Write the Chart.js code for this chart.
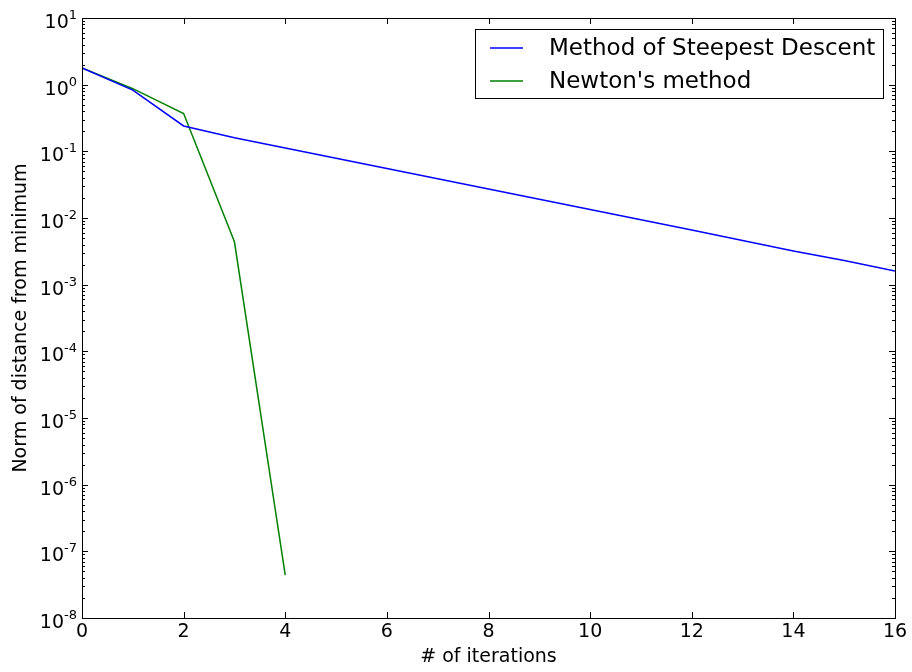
<!DOCTYPE html>
<html>
<head>
<meta charset="utf-8">
<script src="https://cdn.jsdelivr.net/npm/chart.js@4.4.1/dist/chart.umd.min.js"></script>
<style>
  html, body { margin: 0; padding: 0; background: #fff; }
  #wrap { width: 912px; height: 672px; }
</style>
</head>
<body>
<div id="wrap"><canvas id="chart" width="912" height="672"></canvas></div>
<script>
// values
const iterations = [0, 1, 2, 3, 4, 5, 6, 7, 8, 9, 10, 11, 12, 13, 14, 15, 16];
const steepest = [1.78, 0.83, 0.24, 0.160, 0.112, 0.0789, 0.0553, 0.0388, 0.0272,
                  0.0191, 0.0134, 0.0094, 0.0066, 0.0046, 0.0032, 0.0023, 0.0016];
const newtonIter = [0, 1, 2, 3, 4];
const newton = [1.78, 0.87, 0.37, 0.0044, 4.4e-8];
const xTicks = [0, 2, 4, 6, 8, 10, 12, 14, 16];
const yExponents = [-8, -7, -6, -5, -4, -3, -2, -1, 0, 1];

const FONT = 'DejaVu Sans';

function toPoints(xs, ys) {
  return xs.map((x, i) => ({ x: x, y: ys[i] }));
}

// frame, inward ticks, 10^n labels and legend (matplotlib look)
const mplAxes = {
  id: 'mplAxes',
  afterDatasetsDraw(chart) {
    const ctx = chart.ctx;
    const a = chart.chartArea;
    const xs = chart.scales.x;
    const ys = chart.scales.y;
    ctx.save();
    ctx.strokeStyle = '#000';
    ctx.lineWidth = 1;

    // ticks
    ctx.beginPath();
    xTicks.forEach(t => {
      const px = Math.round(xs.getPixelForValue(t)) + 0.5;
      ctx.moveTo(px, a.bottom); ctx.lineTo(px, a.bottom - 6);
      ctx.moveTo(px, a.top); ctx.lineTo(px, a.top + 6);
    });
    yExponents.forEach(e => {
      const py = Math.round(ys.getPixelForValue(Math.pow(10, e))) + 0.5;
      ctx.moveTo(a.left, py); ctx.lineTo(a.left + 6, py);
      ctx.moveTo(a.right, py); ctx.lineTo(a.right - 6, py);
      if (e < 1) {
        for (let m = 2; m <= 9; m++) {
          const pm = Math.round(ys.getPixelForValue(m * Math.pow(10, e))) + 0.5;
          ctx.moveTo(a.left, pm); ctx.lineTo(a.left + 3, pm);
          ctx.moveTo(a.right, pm); ctx.lineTo(a.right - 3, pm);
        }
      }
    });
    ctx.stroke();

    // frame
    ctx.strokeRect(Math.round(a.left) + 0.5, Math.round(a.top) + 0.5,
                   Math.round(a.right - a.left), Math.round(a.bottom - a.top));

    // y tick labels 10^n
    ctx.fillStyle = '#000';
    ctx.textBaseline = 'alphabetic';
    yExponents.forEach(e => {
      const py = ys.getPixelForValue(Math.pow(10, e));
      const exp = String(e);
      ctx.font = '13px "' + FONT + '"';
      const ew = ctx.measureText(exp).width;
      const right = a.left - 5;
      ctx.textAlign = 'left';
      ctx.fillText(exp, right - ew, py + 1);
      ctx.font = '19px "' + FONT + '"';
      ctx.textAlign = 'right';
      ctx.fillText('10', right - ew, py + 10);
    });

    // legend
    const bx = 475.5, by = 29.5, bw = 408, bh = 69;
    ctx.fillStyle = '#fff';
    ctx.fillRect(bx, by, bw, bh);
    ctx.strokeRect(bx, by, bw, bh);
    ctx.font = '23px "' + FONT + '"';
    ctx.textAlign = 'left';
    ctx.textBaseline = 'middle';
    chart.data.datasets.forEach((ds, i) => {
      const ly = 48 + i * 33;
      ctx.strokeStyle = ds.borderColor;
      ctx.lineWidth = 1.5;
      ctx.beginPath();
      ctx.moveTo(490, ly); ctx.lineTo(523, ly);
      ctx.stroke();
      ctx.fillStyle = '#000';
      ctx.fillText(ds.label, 549, ly + 1);
    });
    ctx.restore();
  }
};

new Chart(document.getElementById('chart'), {
  type: 'line',
  data: {
    datasets: [
      {
        label: 'Method of Steepest Descent',
        data: toPoints(iterations, steepest),
        borderColor: '#0000ff',
        borderWidth: 1.5,
        pointRadius: 0,
        tension: 0,
        fill: false
      },
      {
        label: "Newton's method",
        data: toPoints(newtonIter, newton),
        borderColor: '#008000',
        borderWidth: 1.5,
        pointRadius: 0,
        tension: 0,
        fill: false
      }
    ]
  },
  options: {
    responsive: false,
    animation: false,
    devicePixelRatio: 1,
    layout: { padding: { left: 0, right: 17, top: 18, bottom: 0 } },
    plugins: {
      legend: { display: false },
      tooltip: { enabled: false }
    },
    scales: {
      x: {
        type: 'linear',
        min: 0,
        max: 16,
        grid: { display: false, drawTicks: false },
        border: { display: false },
        afterBuildTicks: s => { s.ticks = xTicks.map(v => ({ value: v })); },
        afterFit: s => { s.height = 54; },
        ticks: {
          color: '#000',
          padding: 3,
          maxRotation: 0,
          font: { family: FONT, size: 19 }
        },
        title: {
          display: true,
          text: '# of iterations',
          color: '#000',
          padding: { top: 0, bottom: 4 },
          font: { family: FONT, size: 19 }
        }
      },
      y: {
        type: 'logarithmic',
        min: 1e-8,
        max: 10,
        grid: { display: false, drawTicks: false },
        border: { display: false },
        afterBuildTicks: s => { s.ticks = yExponents.map(e => ({ value: Math.pow(10, e) })); },
        afterFit: s => { s.width = 82; },
        ticks: { display: false },
        title: {
          display: true,
          text: 'Norm of distance from minimum',
          color: '#000',
          padding: { top: 10, bottom: 0 },
          font: { family: FONT, size: 19 }
        }
      }
    }
  },
  plugins: [mplAxes]
});
</script>
</body>
</html>
